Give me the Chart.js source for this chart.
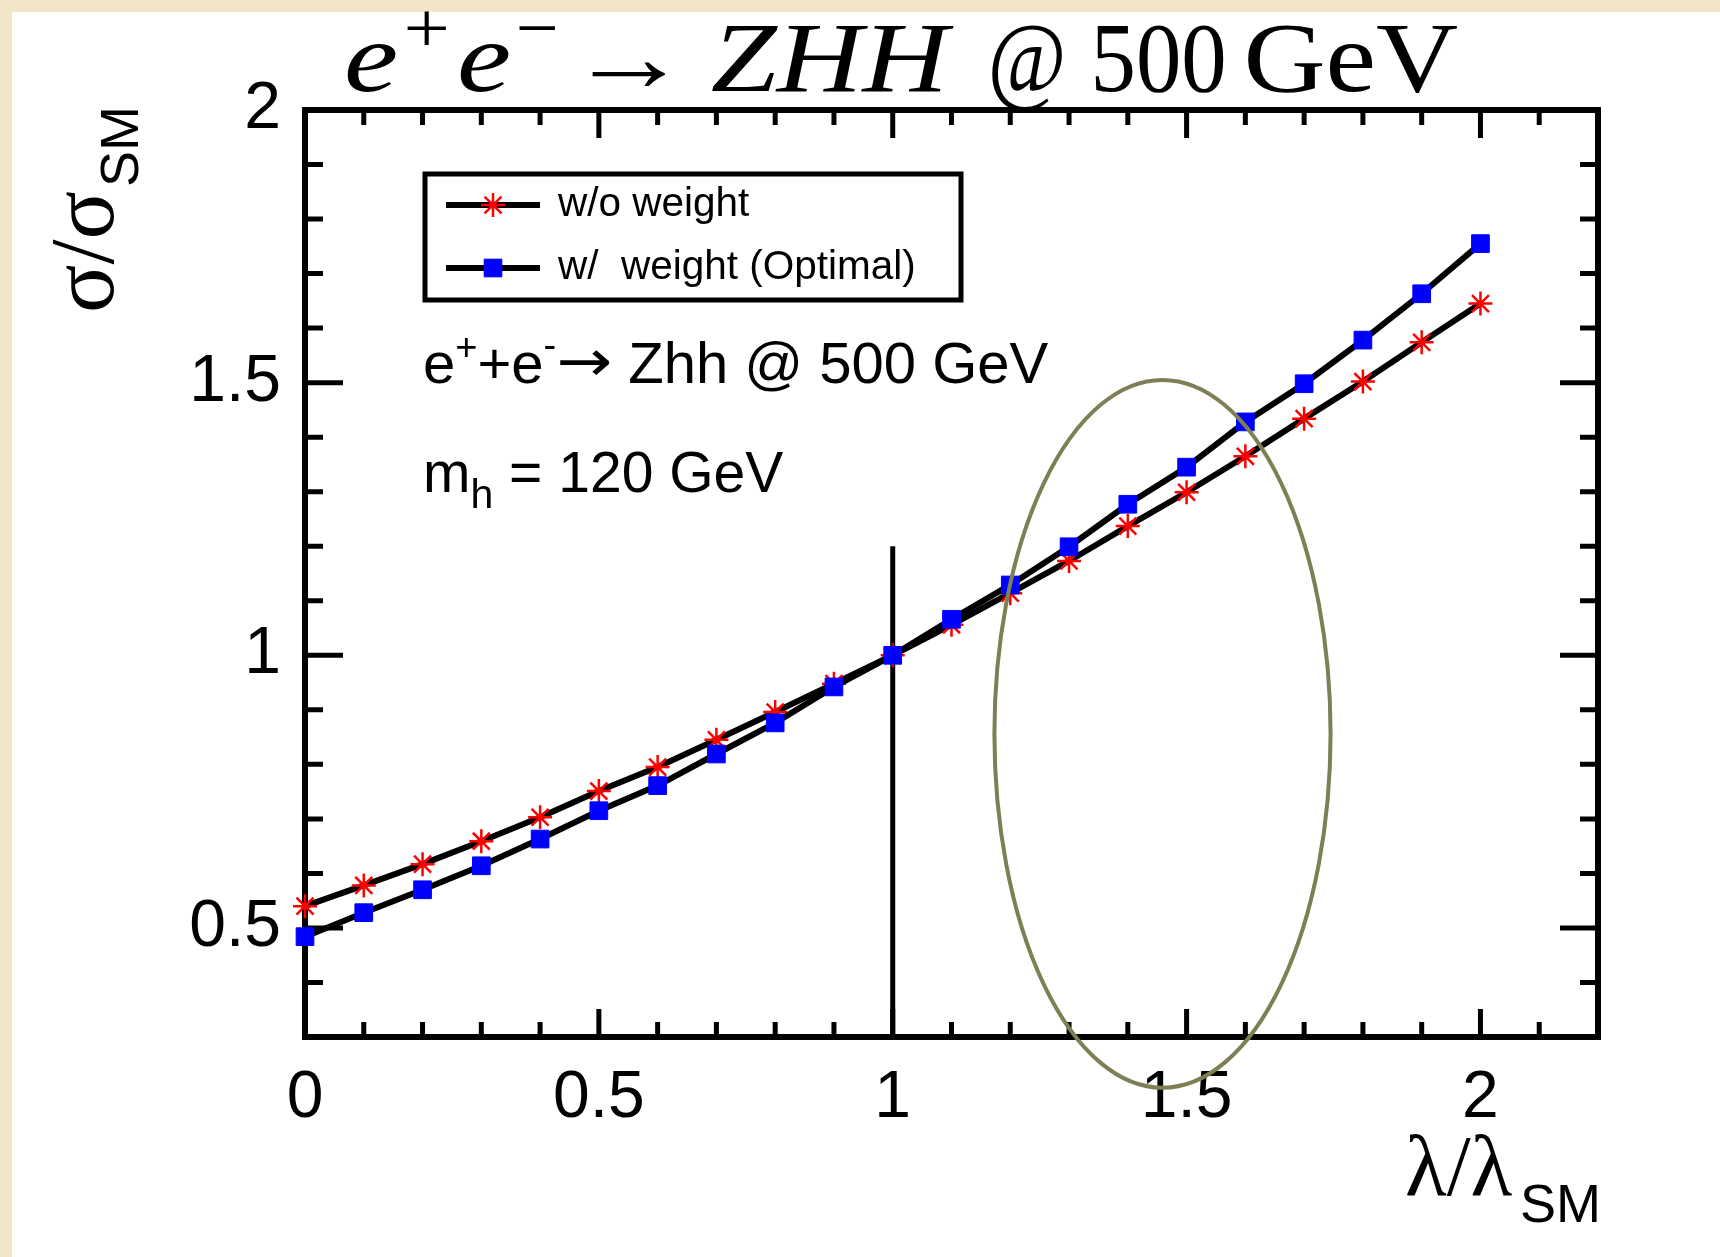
<!DOCTYPE html>
<html>
<head>
<meta charset="utf-8">
<script src="https://cdn.jsdelivr.net/npm/chart.js@4.4.0/dist/chart.umd.min.js"></script>
<style>
    html, body { margin: 0; padding: 0; background: #f2e6c8; }
    canvas { display: block; }
</style>
</head>
<body>
<canvas id="grafico" width="1720" height="1257"></canvas>
<script>
// Datos
const lambdaVals = [0, 0.1, 0.2, 0.3, 0.4, 0.5, 0.6, 0.7, 0.8, 0.9, 1.0,
                    1.1, 1.2, 1.3, 1.4, 1.5, 1.6, 1.7, 1.8, 1.9, 2.0];
const sigmaSinPeso = [0.540, 0.578, 0.617, 0.659, 0.703, 0.751, 0.795, 0.845, 0.896, 0.948, 1.000,
                      1.056, 1.114, 1.173, 1.237, 1.299, 1.365, 1.434, 1.502, 1.574, 1.645];
const sigmaConPeso = [0.484, 0.528, 0.570, 0.614, 0.663, 0.715, 0.761, 0.819, 0.876, 0.942, 1.000,
                      1.066, 1.129, 1.199, 1.277, 1.345, 1.428, 1.498, 1.578, 1.663, 1.755];
const etiquetas = ["w/o weight", "w/  weight (Optimal)"];

const xRango = [0, 2.2];
const yRango = [0.3, 2];
const xTicksMayores = [0, 0.5, 1, 1.5, 2];
const yTicksMayores = [0.5, 1, 1.5, 2];
const pasoMenor = 0.1;

// linea vertical en lambda = 1 y elipse marcada a mano
const lineaVertical = { x: 1, y0: 0.3, y1: 1.2 };
const elipse = { cx: 1.459, cy: 0.856, rx: 0.286, ry: 0.649 };

const SANS = "'Liberation Sans', Arial, Helvetica, sans-serif";
const SERIF = "'Liberation Serif', 'Times New Roman', serif";

function puntos(ys) {
    return lambdaVals.map((x, i) => ({ x, y: ys[i] }));
}

function valoresMenores(min, max) {
    const out = [];
    const n = Math.round((max - min) / pasoMenor);
    for (let i = 0; i <= n; i++) out.push(+(min + i * pasoMenor).toFixed(2));
    return out;
}

function esMayor(v, lista) {
    return lista.some(m => Math.abs(m - v) < 1e-6);
}

// texto estirado (poco) en horizontal para ocupar [x0, x1]
function textoAncho(ctx, font, s, x0, x1, base) {
    ctx.font = font;
    const m = ctx.measureText(s);
    const ink = m.actualBoundingBoxLeft + m.actualBoundingBoxRight;
    const k = Math.min((x1 - x0) / ink, 1.22);
    const off = ((x1 - x0) - ink * k) / 2;
    ctx.save();
    ctx.translate(x0 + off, base);
    ctx.scale(k, 1);
    ctx.fillText(s, m.actualBoundingBoxLeft, 0);
    ctx.restore();
}

// Fondo beige con el panel blanco
const fondo = {
    id: "fondo",
    beforeDraw(chart) {
        const ctx = chart.ctx;
        ctx.save();
        ctx.fillStyle = "#f2e6c8";
        ctx.fillRect(0, 0, chart.width, chart.height);
        ctx.fillStyle = "#ffffff";
        ctx.fillRect(12, 12, chart.width - 12, chart.height - 12);
        ctx.restore();
    }
};

// Marco con ticks hacia dentro, linea vertical
const marco = {
    id: "marco",
    beforeDatasetsDraw(chart) {
        const { ctx, chartArea: a, scales: { x, y } } = chart;
        ctx.save();
        ctx.strokeStyle = "#000";
        ctx.lineWidth = 5;
        ctx.beginPath();
        valoresMenores(xRango[0], xRango[1]).forEach(v => {
            const px = x.getPixelForValue(v);
            const len = esMayor(v, xTicksMayores) ? 28 : 15;
            ctx.moveTo(px, a.bottom); ctx.lineTo(px, a.bottom - len);
            ctx.moveTo(px, a.top); ctx.lineTo(px, a.top + len);
        });
        valoresMenores(yRango[0], yRango[1]).forEach(v => {
            const py = y.getPixelForValue(v);
            const len = esMayor(v, yTicksMayores) ? 38 : 18;
            ctx.moveTo(a.left, py); ctx.lineTo(a.left + len, py);
            ctx.moveTo(a.right, py); ctx.lineTo(a.right - len, py);
        });
        ctx.stroke();

        ctx.lineWidth = 6;
        ctx.strokeRect(a.left, a.top, a.right - a.left, a.bottom - a.top);

        ctx.lineWidth = 5;
        ctx.beginPath();
        ctx.moveTo(x.getPixelForValue(lineaVertical.x), y.getPixelForValue(lineaVertical.y0));
        ctx.lineTo(x.getPixelForValue(lineaVertical.x), y.getPixelForValue(lineaVertical.y1));
        ctx.stroke();
        ctx.restore();
    }
};

// Textos: titulo, titulos de ejes, leyenda, anotaciones, elipse
const textos = {
    id: "textos",
    afterDraw(chart) {
        const { ctx, scales: { x, y } } = chart;
        const ds = chart.data.datasets;
        ctx.save();
        ctx.fillStyle = "#000";
        ctx.textBaseline = "alphabetic";
        ctx.textAlign = "left";

        // titulo (estilo LaTeX)
        const it = "italic 100px " + SERIF, rm = "100px " + SERIF, sup = "72px " + SERIF;
        textoAncho(ctx, it, "e", 342, 402, 91);
        textoAncho(ctx, sup, "+", 407, 447, 52);
        textoAncho(ctx, it, "e", 456, 514, 91);
        textoAncho(ctx, sup, "\u2212", 519, 556, 52);
        textoAncho(ctx, rm, "\u2192", 582, 676, 91);
        textoAncho(ctx, it, "ZHH", 712, 954, 91);
        textoAncho(ctx, rm, "@", 992, 1062, 91);
        textoAncho(ctx, rm, "500", 1095, 1224, 91);
        textoAncho(ctx, rm, "GeV", 1248, 1458, 91);

        // titulo eje y
        ctx.save();
        ctx.translate(113, 313);
        ctx.rotate(-Math.PI / 2);
        ctx.font = "90px " + SERIF;
        ctx.fillText("\u03C3/\u03C3", 0, 0);
        const w = ctx.measureText("\u03C3/\u03C3").width;
        ctx.font = "54px " + SANS;
        ctx.fillText("SM", w + 4, 25);
        ctx.restore();

        // titulo eje x
        ctx.font = "86px " + SERIF;
        ctx.fillText("\u03BB/\u03BB", 1405, 1195);
        ctx.font = "54px " + SANS;
        ctx.fillText("SM", 1520, 1222);

        // leyenda
        ctx.lineWidth = 5;
        ctx.strokeStyle = "#000";
        ctx.strokeRect(425, 174, 536, 126);
        [205, 268].forEach((py, i) => {
            ctx.lineWidth = 6;
            ctx.strokeStyle = "#000";
            ctx.beginPath();
            ctx.moveTo(446, py); ctx.lineTo(540, py);
            ctx.stroke();
            const d = ds[i === 0 ? 1 : 0];
            ctx.fillStyle = d.pointBackgroundColor;
            ctx.strokeStyle = d.pointBorderColor;
            ctx.lineWidth = d.pointBorderWidth;
            Chart.helpers.drawPoint(ctx, {
                pointStyle: d.pointStyle, radius: d.pointRadius,
                borderWidth: d.pointBorderWidth, rotation: 0
            }, 493, py);
            ctx.fillStyle = "#000";
            ctx.font = "40.5px " + SANS;
            ctx.textBaseline = "middle";
            ctx.fillText(etiquetas[i], 558, py);
            ctx.textBaseline = "alphabetic";
        });

        // anotaciones
        ctx.fillStyle = "#000";
        let px = 423;
        const pieza = (f, s, dy, extra) => {
            ctx.font = f; ctx.fillText(s, px, 383 + dy);
            px += ctx.measureText(s).width + (extra || 0);
        };
        pieza("58px " + SANS, "e", 0);
        pieza("38px " + SANS, "+", -23);
        pieza("58px " + SANS, "+e", 0);
        pieza("38px " + SANS, "-", -25);
        ctx.save();
        ctx.translate(px, 0);
        ctx.scale(1.15, 1);
        ctx.font = "58px 'DejaVu Sans', " + SANS;
        ctx.fillText("\u2192", 0, 381);
        px += ctx.measureText("\u2192").width * 1.15;
        ctx.restore();
        pieza("58px " + SANS, " Zhh @ 500 GeV", 0);

        px = 423;
        ctx.font = "57px " + SANS;
        ctx.fillText("m", px, 492);
        px += ctx.measureText("m").width;
        ctx.font = "41px " + SANS;
        ctx.fillText("h", px, 508);
        px += ctx.measureText("h").width;
        ctx.font = "57px " + SANS;
        ctx.fillText(" = 120 GeV", px, 492);

        // elipse
        const cx = x.getPixelForValue(elipse.cx);
        const cy = y.getPixelForValue(elipse.cy);
        const rx = x.getPixelForValue(elipse.cx + elipse.rx) - cx;
        const ry = cy - y.getPixelForValue(elipse.cy + elipse.ry);
        ctx.strokeStyle = "#7f7f55";
        ctx.lineWidth = 4;
        ctx.beginPath();
        ctx.ellipse(cx, cy, rx, ry, 0, 0, 2 * Math.PI);
        ctx.stroke();
        ctx.restore();
    }
};

new Chart(document.getElementById("grafico"), {
    type: "line",
    data: {
        datasets: [
            {
                label: etiquetas[1],
                data: puntos(sigmaConPeso),
                borderColor: "#000",
                borderWidth: 6,
                pointStyle: "rect",
                pointRadius: 12.5,
                pointBackgroundColor: "#0000ff",
                pointBorderColor: "#0000ff",
                pointBorderWidth: 1,
                tension: 0,
                clip: false
            },
            {
                label: etiquetas[0],
                data: puntos(sigmaSinPeso),
                borderColor: "#000",
                borderWidth: 6,
                pointStyle: "star",
                pointRadius: 12,
                pointBackgroundColor: "#ff0000",
                pointBorderColor: "#ff0000",
                pointBorderWidth: 2.5,
                tension: 0,
                clip: false
            }
        ]
    },
    options: {
        responsive: false,
        animation: false,
        devicePixelRatio: 1,
        layout: { padding: { top: 110, right: 122, left: 0, bottom: 0 } },
        plugins: {
            legend: { display: false },
            title: { display: false },
            tooltip: { enabled: false }
        },
        scales: {
            x: {
                type: "linear",
                min: xRango[0],
                max: xRango[1],
                grid: { display: false, drawTicks: false },
                border: { display: false },
                ticks: {
                    color: "#000",
                    font: { family: SANS, size: 66 },
                    padding: 22,
                    maxRotation: 0,
                    autoSkip: false,
                    callback: v => String(v)
                },
                afterBuildTicks: s => { s.ticks = xTicksMayores.map(v => ({ value: v })); },
                afterFit: s => { s.height = 220; }
            },
            y: {
                type: "linear",
                min: yRango[0],
                max: yRango[1],
                grid: { display: false, drawTicks: false },
                border: { display: false },
                ticks: {
                    color: "#000",
                    font: { family: SANS, size: 66 },
                    padding: 24,
                    autoSkip: false,
                    callback: v => String(v)
                },
                afterBuildTicks: s => { s.ticks = yTicksMayores.map(v => ({ value: v })); },
                afterFit: s => { s.width = 305; }
            }
        }
    },
    plugins: [fondo, marco, textos]
});
</script>
</body>
</html>
